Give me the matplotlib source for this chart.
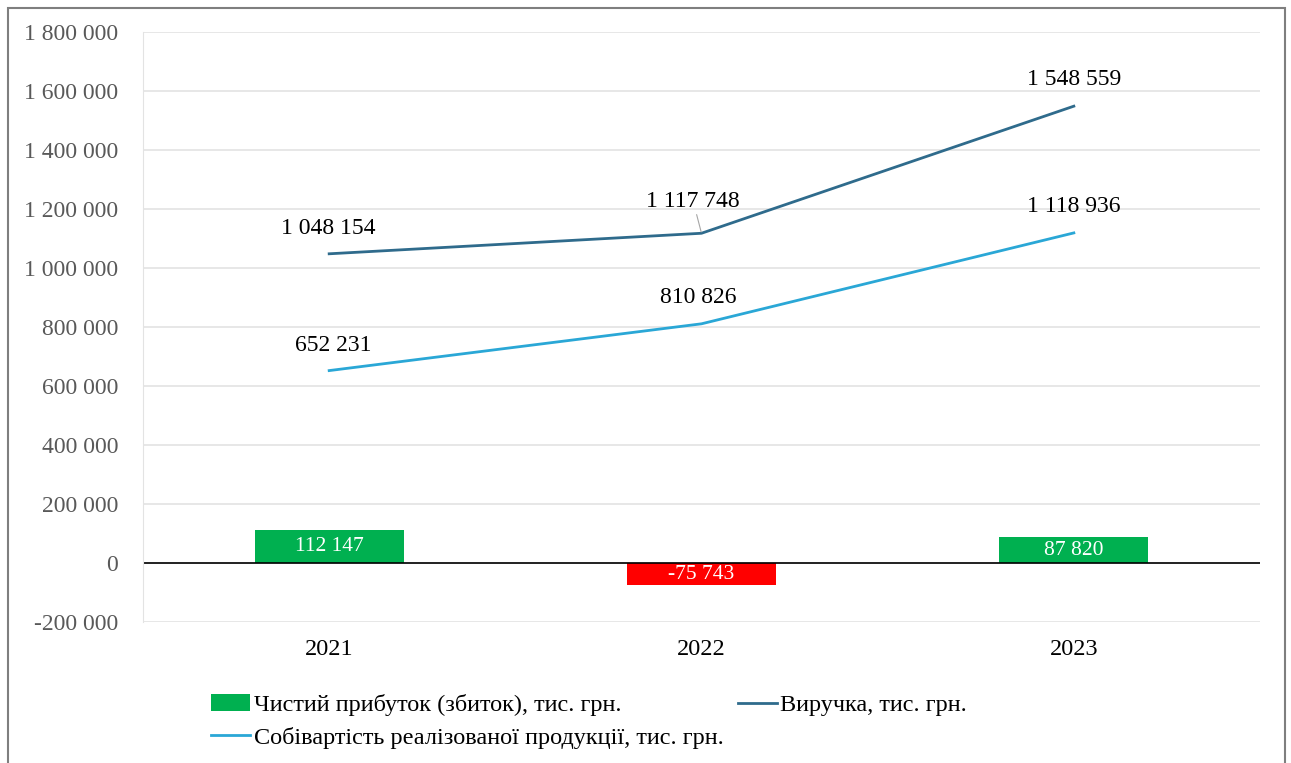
import matplotlib.pyplot as plt
from matplotlib.patches import Rectangle
from matplotlib.ticker import FuncFormatter

plt.rcParams['font.family'] = ['Liberation Serif', 'DejaVu Serif']

years = ['2021', '2022', '2023']
profit = [112147, -75743, 87820]
revenue = [1048154, 1117748, 1548559]
cost = [652231, 810826, 1118936]

profit_name = 'Чистий прибуток (збиток), тис. грн.'
revenue_name = 'Виручка, тис. грн.'
cost_name = 'Собівартість реалізованої продукції, тис. грн.'

green = '#00B050'
red = '#FF0000'
dark_blue = '#2F6B8C'
light_blue = '#2AA7D6'


def fmt(v):
    s = f'{abs(int(v)):,}'.replace(',', ' ')
    return '-' + s if v < 0 else s


fig = plt.figure(figsize=(12.91, 7.63), dpi=100)
ax = fig.add_axes([143 / 1291, 1 - 622 / 763, (1260 - 143) / 1291, 590 / 763])

# outer frame
fig.patches.append(Rectangle((8 / 1291, -0.01), 1277 / 1291, 1 - 8 / 763 + 0.01,
                             transform=fig.transFigure, fill=False,
                             edgecolor='#7f7f7f', linewidth=1.5))

x = list(range(len(years)))
bar_colors = [green if v >= 0 else red for v in profit]
bars = ax.bar(x, profit, width=0.4, color=bar_colors, zorder=2, label=profit_name)
l_rev, = ax.plot(x, revenue, color=dark_blue, linewidth=2, zorder=3, label=revenue_name)
l_cost, = ax.plot(x, cost, color=light_blue, linewidth=2, zorder=3, label=cost_name)

ax.axhline(0, color='black', linewidth=1.2, zorder=2)

ax.set_xlim(-0.5, 2.5)
ax.set_ylim(-200000, 1800000)
ax.set_yticks(range(-200000, 1800001, 200000))
ax.yaxis.set_major_formatter(FuncFormatter(lambda v, p: fmt(v)))
ax.set_xticks(x)
ax.set_xticklabels(years)
ax.tick_params(axis='y', length=0, labelsize=17, labelcolor='#595959', pad=18)
ax.tick_params(axis='x', length=0, labelsize=17.5, labelcolor='black', pad=12)
ax.grid(axis='y', color='#e3e3e3', linewidth=1.2, zorder=0)
for s in ['top', 'right', 'bottom']:
    ax.spines[s].set_visible(False)
ax.spines['left'].set_color('#e3e3e3')

# bar labels
for i, v in enumerate(profit):
    ax.text(i, v / 2, fmt(v), color='white', fontsize=15.5, ha='center', va='center', zorder=4)

# line labels
rev_off = [(-1, 18), (-6, 23), (0, 19.5)]
cost_off = [(3, 18), (-2, 19), (0, 18.7)]
for i, v in enumerate(revenue):
    dx, dy = rev_off[i]
    arrow = None
    if i == 1:
        arrow = dict(arrowstyle='-', color='#a6a6a6', lw=0.8, shrinkA=0, shrinkB=1)
    ax.annotate(fmt(v), (i, v), xytext=(dx, dy), textcoords='offset points',
                fontsize=17, ha='center', va='center', arrowprops=arrow)
for i, v in enumerate(cost):
    dx, dy = cost_off[i]
    ax.annotate(fmt(v), (i, v), xytext=(dx, dy), textcoords='offset points',
                fontsize=17, ha='center', va='center')

# column-wise fill: profit & cost in column 1, revenue in column 2
ax.legend([bars, l_cost, l_rev], [profit_name, cost_name, revenue_name],
          loc='upper left', bbox_to_anchor=(211 / 1291, 1 - 694 / 763),
          bbox_transform=fig.transFigure, ncol=2, frameon=False, fontsize=17.5,
          handlelength=1.6, handletextpad=0.15, columnspacing=0.6,
          labelspacing=0.45, borderaxespad=0, borderpad=0)

fig.savefig('out.png', dpi=100)
